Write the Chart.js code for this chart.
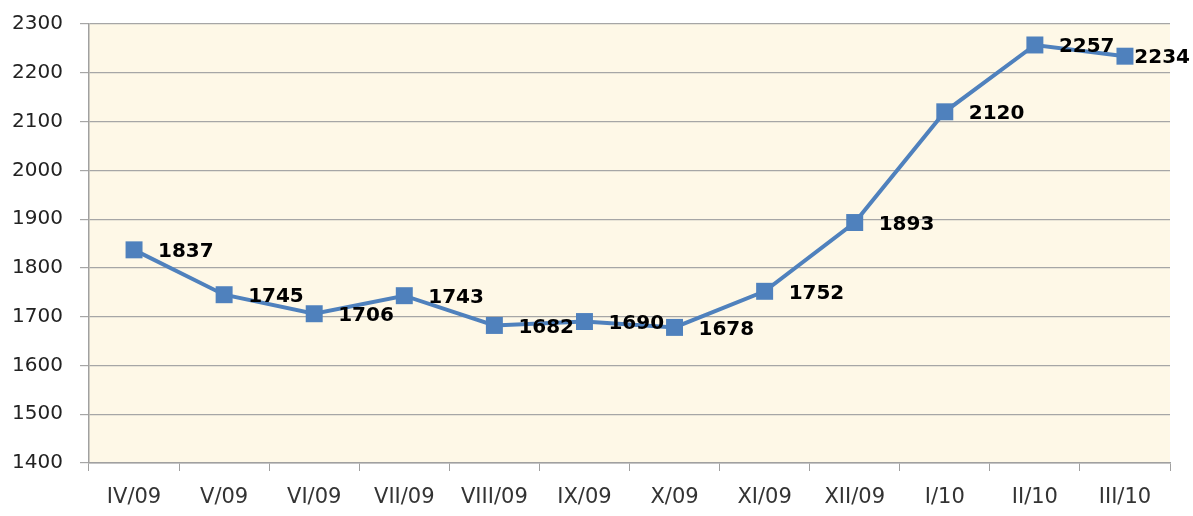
<!DOCTYPE html>
<html>
<head>
<meta charset="utf-8">
<script src="https://cdn.jsdelivr.net/npm/chart.js@4"></script>
<style>
  html, body { margin: 0; padding: 0; background: #fff; }
  #wrap { width: 1193px; height: 516px; }
</style>
</head>
<body>
<div id="wrap"><canvas id="line-chart"></canvas></div>
<script>
const months = ['IV/09', 'V/09', 'VI/09', 'VII/09', 'VIII/09', 'IX/09', 'X/09', 'XI/09', 'XII/09', 'I/10', 'II/10', 'III/10'];
const values = [1837, 1745, 1706, 1743, 1682, 1690, 1678, 1752, 1893, 2120, 2257, 2234];
const yTicks = [1400, 1500, 1600, 1700, 1800, 1900, 2000, 2100, 2200, 2300];

// cream fill behind the plot
const plotBg = {
  id: 'plotBg',
  beforeDraw(chart) {
    const a = chart.chartArea, ctx = chart.ctx;
    ctx.save();
    ctx.fillStyle = '#fef8e7';
    ctx.fillRect(a.left, a.top, a.right - a.left, a.bottom - a.top);
    ctx.restore();
  }
};

// value labels right of each point
const valueLabels = {
  id: 'valueLabels',
  afterDatasetsDraw(chart) {
    const ctx = chart.ctx;
    const meta = chart.getDatasetMeta(0);
    ctx.save();
    ctx.font = 'bold 20px "DejaVu Sans"';
    ctx.fillStyle = '#000';
    ctx.textBaseline = 'middle';
    meta.data.forEach((pt, i) => {
      const txt = String(values[i]);
      const w = ctx.measureText(txt).width;
      let x = pt.x + 24;
      if (x + w > chart.width - 3) x = chart.width - 3 - w;
      ctx.fillText(txt, x, pt.y + 2);
    });
    ctx.restore();
  }
};

new Chart(document.getElementById('line-chart'), {
  type: 'line',
  data: {
    labels: months,
    datasets: [{
      data: values,
      borderColor: '#4f81bd',
      backgroundColor: '#4f81bd',
      borderWidth: 4,
      pointStyle: 'rect',
      pointRadius: 12,
      pointHoverRadius: 12,
      pointBorderWidth: 0,
      tension: 0
    }]
  },
  options: {
    responsive: true,
    maintainAspectRatio: false,
    animation: false,
    layout: { padding: { top: 24, right: 23, left: 0, bottom: 0 } },
    plugins: { legend: { display: false }, tooltip: { enabled: false } },
    scales: {
      x: {
        offset: true,
        grid: { offset: true, drawOnChartArea: false, color: '#a0a0a0', tickLength: 8 },
        border: { color: '#a0a0a0', width: 1.5 },
        ticks: { color: '#333', font: { family: 'DejaVu Sans', size: 21 }, padding: 14, maxRotation: 0 },
        afterFit(s) { s.height = 53; s.paddingLeft = 0; s.paddingRight = 0; }
      },
      y: {
        min: 1400,
        max: 2300,
        afterBuildTicks(s) { s.ticks = yTicks.map(v => ({ value: v })); },
        grid: { color: '#a6a6a6', lineWidth: 1.2, tickLength: 9 },
        border: { color: '#a0a0a0', width: 1.5 },
        ticks: {
          color: '#222',
          font: { family: 'DejaVu Sans', size: 20 },
          padding: 17,
          callback: v => String(v)
        },
        afterFit(s) { s.width = 89; s.paddingTop = 0; s.paddingBottom = 0; }
      }
    }
  },
  plugins: [plotBg, valueLabels]
});
</script>
</body>
</html>
